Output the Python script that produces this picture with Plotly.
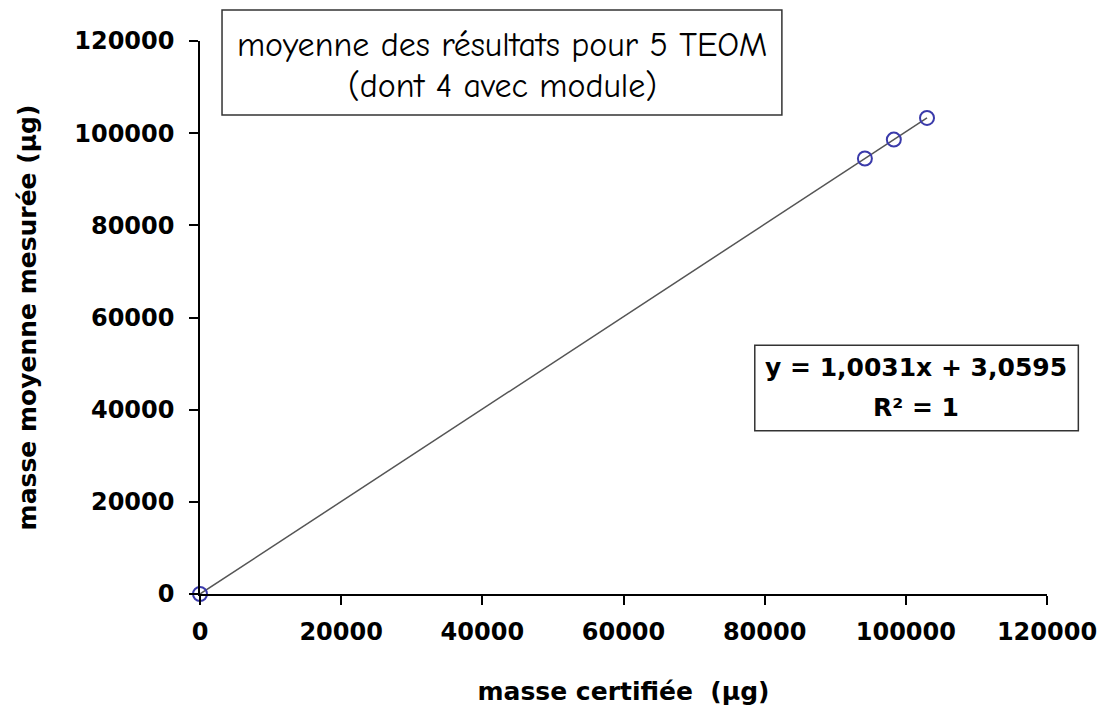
import plotly.graph_objects as go

# Certified mass vs. mean measured mass (µg)
masse_certifiee = [0, 94200, 98300, 103000]
masse_mesuree = [0, 94500, 98600, 103300]

# Linear fit shown on the chart
pente = 1.0031
ordonnee = 3.0595
r2 = 1

tick_vals = [0, 20000, 40000, 60000, 80000, 100000, 120000]
tick_text = ["0", "20000", "40000", "60000", "80000", "100000", "120000"]

x_fit = [0, max(masse_certifiee)]
y_fit = [pente * v + ordonnee for v in x_fit]

fig = go.Figure()
fig.add_trace(go.Scatter(
    x=x_fit, y=y_fit, mode="lines",
    line=dict(color="#555555", width=1.5),
    showlegend=False, hoverinfo="skip",
))
fig.add_trace(go.Scatter(
    x=masse_certifiee, y=masse_mesuree, mode="markers",
    marker=dict(symbol="circle-open", size=14, color="#3a3aaa",
                line=dict(width=2, color="#3a3aaa")),
    showlegend=False, cliponaxis=False,
))

tick_font = dict(family="DejaVu Sans", size=24, color="black", weight="bold")
title_font = dict(family="DejaVu Sans", size=25, color="black", weight="bold")

fig.update_xaxes(
    range=[0, 120000], tickvals=tick_vals, ticktext=tick_text,
    showgrid=False, zeroline=False, showline=True, linecolor="black", linewidth=1.5,
    ticks="outside", ticklen=9, tickwidth=1.5, tickcolor="black",
    tickfont=tick_font, ticklabelstandoff=6,
    title=dict(text="masse certifiée  (µg)", font=title_font, standoff=38),
)
fig.update_yaxes(
    range=[0, 120000], tickvals=tick_vals, ticktext=tick_text,
    showgrid=False, zeroline=False, showline=True, linecolor="black", linewidth=1.5,
    ticks="outside", ticklen=9, tickwidth=1.5, tickcolor="black",
    tickfont=tick_font, ticklabelstandoff=10,
    title=dict(text="masse moyenne mesurée (µg)", font=title_font, standoff=30),
)

box_line = dict(color="#333333", width=1.5)
fig.add_shape(type="rect", xref="paper", yref="paper",
              x0=0.026, x1=0.687, y0=0.866, y1=1.056,
              line=box_line, fillcolor="white", layer="above")
fig.add_shape(type="rect", xref="paper", yref="paper",
              x0=0.655, x1=1.037, y0=0.295, y1=0.450,
              line=box_line, fillcolor="white", layer="above")

title_box_font = dict(family="Comic Sans MS, Comic Neue, Noto Sans", size=34, color="black")
fig.add_annotation(xref="paper", yref="paper", x=0.357, y=0.993,
                   text="moyenne des résultats pour 5 TEOM", showarrow=False,
                   font=title_box_font, xanchor="center", yanchor="middle")
fig.add_annotation(xref="paper", yref="paper", x=0.357, y=0.919,
                   text="(dont 4 avec module)", showarrow=False,
                   font=title_box_font, xanchor="center", yanchor="middle")

eq_font = dict(family="DejaVu Sans", size=25, color="black", weight="bold")
eq_text = f"y = {pente:.4f}x + {ordonnee:.4f}".replace(".", ",")
fig.add_annotation(xref="paper", yref="paper", x=0.845, y=0.409,
                   text=eq_text, showarrow=False, font=eq_font,
                   xanchor="center", yanchor="middle")
fig.add_annotation(xref="paper", yref="paper", x=0.845, y=0.337,
                   text=f"R² = {r2}", showarrow=False, font=eq_font,
                   xanchor="center", yanchor="middle")

fig.update_layout(
    width=1109, height=717,
    margin=dict(l=200, r=62, t=41, b=123),
    plot_bgcolor="white", paper_bgcolor="white",
)

fig.write_html("out.html")
